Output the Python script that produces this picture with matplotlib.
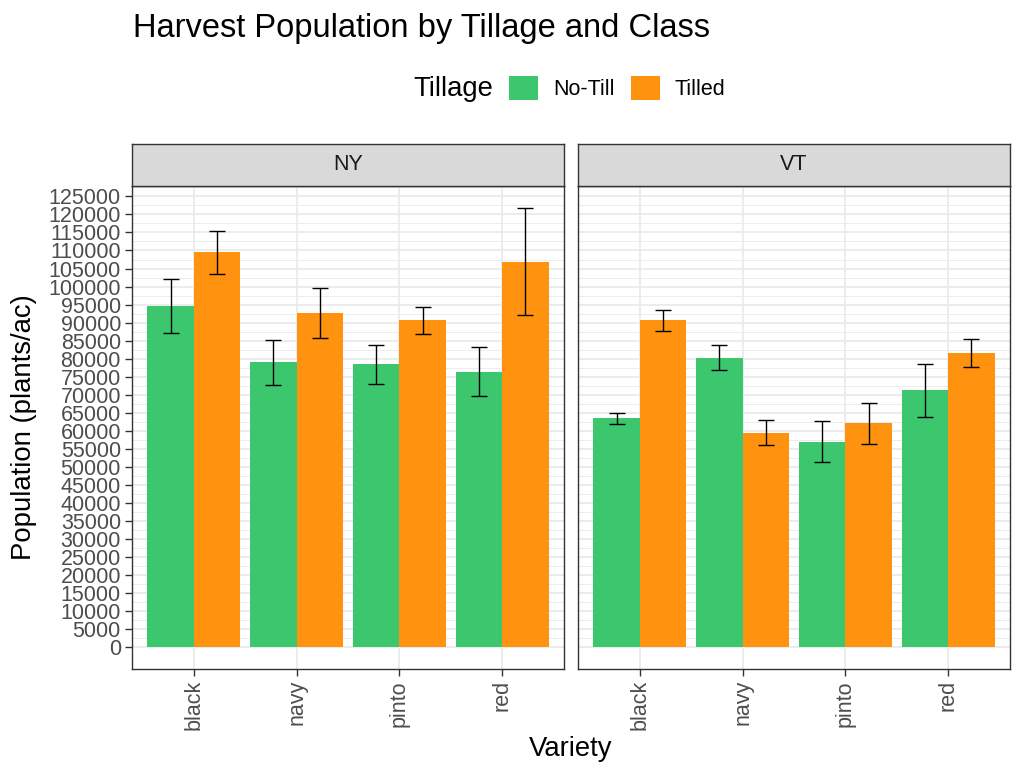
import numpy as np
import matplotlib.pyplot as plt
from matplotlib.patches import Patch

plt.rcParams['font.family'] = ['Liberation Sans', 'DejaVu Sans']

varieties = ['black', 'navy', 'pinto', 'red']
states = ['NY', 'VT']
tillage = ['No-Till', 'Tilled']
colors = {'No-Till': '#3CC76E', 'Tilled': '#FF920F'}

# mean and standard error
ny_notill = [94600, 79000, 78400, 76400]
ny_notill_se = [7400, 6300, 5300, 6700]
ny_tilled = [109500, 92600, 90600, 106900]
ny_tilled_se = [5900, 7000, 3800, 14900]
vt_notill = [63400, 80300, 56900, 71200]
vt_notill_se = [1600, 3500, 5700, 7300]
vt_tilled = [90700, 59500, 62100, 81600]
vt_tilled_se = [2900, 3500, 5700, 3800]

data = {
    'NY': {'No-Till': (ny_notill, ny_notill_se), 'Tilled': (ny_tilled, ny_tilled_se)},
    'VT': {'No-Till': (vt_notill, vt_notill_se), 'Tilled': (vt_tilled, vt_tilled_se)},
}

W, H = 1024, 779
fig = plt.figure(figsize=(W / 100, H / 100), dpi=100)

def px(x0, y0, x1, y1):
    return [x0 / W, 1 - y1 / H, (x1 - x0) / W, (y1 - y0) / H]

panels = [(132, 564), (578, 1010)]
top, bottom = 186, 669
ymax_data = max(max(np.add(v[0], v[1])) for s in data.values() for v in s.values())
pad = 0.05 * ymax_data
bw = 0.45
TICK = 15.5

for k, st in enumerate(states):
    x0, x1 = panels[k]
    ax = fig.add_axes(px(x0, top, x1, bottom))
    xs = np.arange(1, len(varieties) + 1)
    for j, t in enumerate(tillage):
        m, se = data[st][t]
        pos = xs + (j - 0.5) * bw
        ax.bar(pos, m, width=bw, color=colors[t], zorder=2)
        ax.errorbar(pos, m, yerr=se, fmt='none', ecolor='black', elinewidth=1.0,
                    capsize=5.5, capthick=1.0, zorder=3)
    ax.set_xlim(0.4, len(varieties) + 0.6)
    ax.set_ylim(-pad, ymax_data + pad)
    ax.set_yticks(np.arange(0, 125001, 5000))
    ax.set_yticks(np.arange(2500, 127501, 5000), minor=True)
    ax.set_xticks(xs)
    ax.set_xticklabels(varieties, rotation=90, fontsize=TICK, color='#4D4D4D')
    ax.grid(which='major', color='#EBEBEB', linewidth=1.3, zorder=0)
    ax.grid(which='minor', axis='y', color='#EBEBEB', linewidth=0.65, zorder=0)
    ax.set_axisbelow(True)
    for s in ax.spines.values():
        s.set_color('#333333')
        s.set_linewidth(1.0)
    ax.tick_params(axis='both', which='major', length=5, color='#333333', width=1.0, pad=3)
    ax.tick_params(axis='y', which='minor', length=0)
    if k == 0:
        ax.set_yticklabels([str(v) for v in range(0, 125001, 5000)], fontsize=TICK, color='#4D4D4D')
    else:
        ax.tick_params(axis='y', labelleft=False, length=0)
    # strip
    sx = fig.add_axes(px(x0, 144, x1, top))
    sx.set_xticks([])
    sx.set_yticks([])
    sx.set_facecolor('#D9D9D9')
    for s in sx.spines.values():
        s.set_color('#333333')
        s.set_linewidth(1.0)
    sx.text(0.5, 0.5, st, ha='center', va='center', fontsize=TICK, color='#1A1A1A',
            transform=sx.transAxes)

fig.text(133 / W, 1 - 28 / H, 'Harvest Population by Tillage and Class', fontsize=23.5,
         ha='left', va='center')
fig.text(24 / W, 1 - 427 / H, 'Population (plants/ac)', fontsize=19.8, rotation=90,
         ha='center', va='center')
fig.text(571 / W, 1 - 749 / H, 'Variety', fontsize=19.8, ha='center', va='center')

fig.text(413 / W, 1 - 89 / H, 'Tillage', fontsize=19.8, ha='left', va='center')
handles = [Patch(facecolor=colors[t], edgecolor='none') for t in tillage]
fig.legend(handles, tillage, loc='center left', ncol=2,
           bbox_to_anchor=(509 / W, 1 - 88 / H), frameon=False, fontsize=TICK,
           handlelength=1.35, handleheight=1.35, columnspacing=0.75,
           handletextpad=0.7, borderpad=0, borderaxespad=0)

fig.savefig('out.png', dpi=100)
